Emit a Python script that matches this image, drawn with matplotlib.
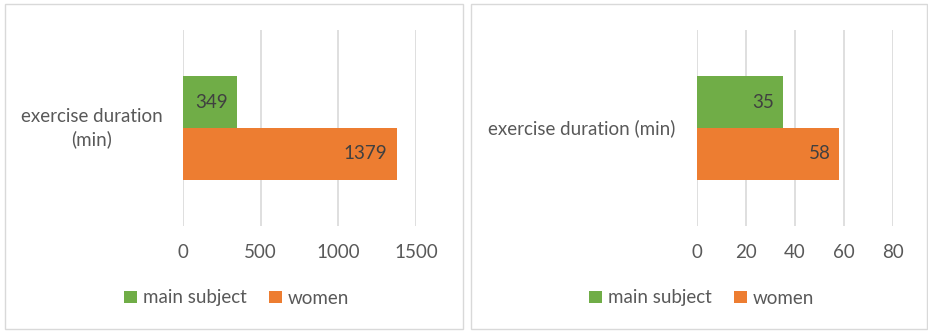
import matplotlib
matplotlib.use('Agg')
import matplotlib.pyplot as plt
from matplotlib.patches import Rectangle, Patch

plt.rcParams['font.family'] = ['Lato', 'DejaVu Sans']

W, H = 929, 333

series = ["main subject", "women"]
colors = ["#70AD47", "#ED7D31"]
left_values = [349, 1379]
right_values = [35, 58]
left_ticks = [0, 500, 1000, 1500]
right_ticks = [0, 20, 40, 60, 80]
left_category = "exercise duration\n(min)"
right_category = "exercise duration (min)"

FS = 13.5

fig = plt.figure(figsize=(W / 100, H / 100), dpi=100)

def px_axes(x0, y0, x1, y1):
    return fig.add_axes([x0 / W, 1 - y1 / H, (x1 - x0) / W, (y1 - y0) / H])

def panel(bx0, bx1, ax0, ax1, values, ticks, category, cat_x, legend_x):
    # panel frame
    fig.add_artist(Rectangle((bx0 / W, 4 / H), (bx1 - bx0) / W, (H - 8) / H,
                             transform=fig.transFigure, fill=False,
                             edgecolor="#d9d9d9", linewidth=1))
    ax = px_axes(ax0, 30, ax1, 226)
    ax.set_xlim(ticks[0], ticks[-1])
    ax.set_ylim(0.5, -0.5)
    h = 0.265
    pos = [-h / 2, h / 2]
    for p, v, c in zip(pos, values, colors):
        ax.barh(p, v, height=h, color=c, zorder=3)
        ax.text(v - (ticks[-1] - ticks[0]) * 0.042, p, str(v), ha="right", va="center",
                fontsize=FS, color="#404040", zorder=4)
    ax.set_xticks(ticks)
    ax.set_yticks([])
    ax.grid(axis="x", color="#d9d9d9", linewidth=1.2, zorder=0)
    for s in ax.spines.values():
        s.set_visible(False)
    ax.tick_params(axis="x", length=0, pad=13, labelsize=FS, labelcolor="#595959")
    fig.text(cat_x / W, 1 - 128 / H, category, ha="center", va="center",
             fontsize=FS, color="#595959", linespacing=1.3)
    handles = [Patch(facecolor=c, label=s) for s, c in zip(series, colors)]
    fig.legend(handles=handles, loc="center", bbox_to_anchor=(legend_x / W, 1 - 298 / H),
               ncol=2, frameon=False, fontsize=FS, labelcolor="#595959",
               handlelength=0.65, handleheight=0.65, handletextpad=0.35,
               columnspacing=1.2)
    return ax

panel(5, 463, 183, 416, left_values, left_ticks, left_category, 92, 237)
panel(471, 927, 697, 893, right_values, right_ticks, right_category, 582, 702)

fig.savefig("out.png", dpi=100)
